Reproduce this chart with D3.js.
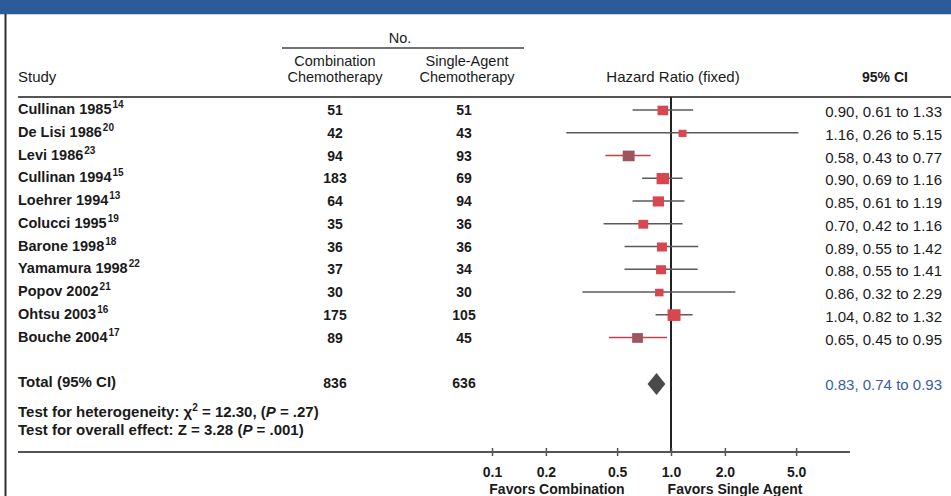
<!DOCTYPE html>
<html>
<head>
<meta charset="utf-8">
<script src="https://cdn.jsdelivr.net/npm/d3@7/dist/d3.min.js"></script>
<style>
  html, body { margin: 0; padding: 0; background: #fff; }
  svg { display: block; font-family: "Liberation Sans", Arial, Helvetica, sans-serif; }
</style>
</head>
<body>
<svg id="chart" width="951" height="496"></svg>
<script>
// Trials in the meta-analysis
const studies = ["Cullinan 1985", "De Lisi 1986", "Levi 1986", "Cullinan 1994", "Loehrer 1994",
  "Colucci 1995", "Barone 1998", "Yamamura 1998", "Popov 2002", "Ohtsu 2003", "Bouche 2004"];
const refs = ["14", "20", "23", "15", "13", "19", "18", "22", "21", "16", "17"];
const nCombination = [51, 42, 94, 183, 64, 35, 36, 37, 30, 175, 89];
const nSingle = [51, 43, 93, 69, 94, 36, 36, 34, 30, 105, 45];
const hazardRatio = [0.90, 1.16, 0.58, 0.90, 0.85, 0.70, 0.89, 0.88, 0.86, 1.04, 0.65];
const ciLower = [0.61, 0.26, 0.43, 0.69, 0.61, 0.42, 0.55, 0.55, 0.32, 0.82, 0.45];
const ciUpper = [1.33, 5.15, 0.77, 1.16, 1.19, 1.16, 1.42, 1.41, 2.29, 1.32, 0.95];
// Approximate percent weights (fixed effect), used for square size
const weights = [8.1, 0.6, 14.5, 18.3, 11.0, 4.8, 5.5, 5.5, 1.3, 21.7, 8.8];

// Pooled estimate
const totalLabel = "Total (95% CI)";
const totalCombination = 836;
const totalSingle = 636;
const totalHR = 0.83, totalLower = 0.74, totalUpper = 0.93;

// Axis ticks
const tickValues = [0.1, 0.2, 0.5, 1, 2, 5];
const tickLabels = ["0.1", "0.2", "0.5", "1.0", "2.0", "5.0"];

const fmt = d3.format(".2f");
const svg = d3.select("#chart");

// Layout
const rowTop = 111, rowStep = 22.75;
const axisY = 452;
const colComb = 335, colSingle = 464;
const ciRight = 942;

const x = d3.scaleLog().domain([0.1, 10]).range([492, 850]);
const y = i => rowTop + i * rowStep;
const size = d3.scaleSqrt().domain([0, 22]).range([7, 13]);

// Title band and frame
svg.append("rect").attr("x", 0).attr("y", 0).attr("width", 951).attr("height", 14).attr("fill", "#2c5b99");
svg.append("line").attr("x1", 0).attr("x2", 951).attr("y1", 14.5).attr("y2", 14.5)
  .attr("stroke", "#c9d3e3").attr("stroke-width", 1);
svg.append("line").attr("x1", 5.5).attr("x2", 5.5).attr("y1", 14).attr("y2", 496)
  .attr("stroke", "#2e2e2e").attr("stroke-width", 2);

// Header
const hdr = svg.append("g").attr("fill", "#1a1a1a").attr("font-size", 14.5);
hdr.append("text").attr("x", 400).attr("y", 43).attr("text-anchor", "middle").text("No.");
svg.append("line").attr("x1", 282).attr("x2", 524).attr("y1", 48).attr("y2", 48)
  .attr("stroke", "#444").attr("stroke-width", 1.6);
hdr.append("text").attr("x", colComb).attr("y", 66).attr("text-anchor", "middle").text("Combination");
hdr.append("text").attr("x", colComb).attr("y", 82).attr("text-anchor", "middle").text("Chemotherapy");
hdr.append("text").attr("x", colSingle + 3).attr("y", 66).attr("text-anchor", "middle").text("Single-Agent");
hdr.append("text").attr("x", colSingle + 3).attr("y", 82).attr("text-anchor", "middle").text("Chemotherapy");
hdr.append("text").attr("x", 18).attr("y", 82).attr("font-size", 15).text("Study");
hdr.append("text").attr("x", x(1) + 2).attr("y", 82).attr("text-anchor", "middle").attr("font-size", 15)
  .text("Hazard Ratio (fixed)");
hdr.append("text").attr("x", 885).attr("y", 82).attr("text-anchor", "middle")
  .attr("font-weight", "bold").attr("font-size", 14).text("95% CI");
svg.append("line").attr("x1", 18).attr("x2", 951).attr("y1", 97).attr("y2", 97)
  .attr("stroke", "#555").attr("stroke-width", 2);

// Line of no effect
svg.append("line").attr("x1", x(1)).attr("x2", x(1)).attr("y1", 97).attr("y2", axisY)
  .attr("stroke", "#222").attr("stroke-width", 2);

// Study rows
const rows = studies.map((s, i) => ({
  name: s, ref: refs[i], nc: nCombination[i], ns: nSingle[i],
  hr: hazardRatio[i], lo: ciLower[i], hi: ciUpper[i], w: weights[i], i
}));

const nameText = svg.append("g").attr("font-size", 14.5).attr("font-weight", "bold").attr("fill", "#1a1a1a")
  .selectAll("text").data(rows).join("text")
  .attr("x", 18).attr("y", d => y(d.i) + 3);
nameText.append("tspan").text(d => d.name);
nameText.append("tspan").attr("font-size", 10).attr("dy", -6).attr("dx", 1).text(d => d.ref);

svg.append("g").attr("font-size", 14).attr("font-weight", "bold").attr("fill", "#1a1a1a")
  .attr("text-anchor", "middle")
  .selectAll("text").data(rows).join("text")
  .attr("x", colComb).attr("y", d => y(d.i) + 4).text(d => d.nc);
svg.append("g").attr("font-size", 14).attr("font-weight", "bold").attr("fill", "#1a1a1a")
  .attr("text-anchor", "middle")
  .selectAll("text").data(rows).join("text")
  .attr("x", colSingle).attr("y", d => y(d.i) + 4).text(d => d.ns);

svg.append("g").attr("font-size", 15).attr("fill", "#1a1a1a").attr("text-anchor", "end")
  .selectAll("text").data(rows).join("text")
  .attr("x", ciRight).attr("y", d => y(d.i) + 6)
  .text(d => `${fmt(d.hr)}, ${fmt(d.lo)} to ${fmt(d.hi)}`);

// Confidence intervals and point estimates; trials whose interval excludes 1 are darker
const sig = d => d.hi < 1;
const marks = svg.append("g");
marks.selectAll("line").data(rows).join("line")
  .attr("x1", d => x(d.lo)).attr("x2", d => x(d.hi))
  .attr("y1", d => y(d.i) - 1).attr("y2", d => y(d.i) - 1)
  .attr("stroke", d => sig(d) ? "#b5464c" : "#5a5a5a").attr("stroke-width", 1.6);
marks.selectAll("rect").data(rows).join("rect")
  .attr("x", d => x(d.hr) - size(d.w) / 2)
  .attr("y", d => y(d.i) - size(d.w) / 2)
  .attr("width", d => size(d.w)).attr("height", d => size(d.w) * 0.9)
  .attr("fill", d => sig(d) ? "#9e565c" : "#d6474f");

// Pooled row
const ty = y(12);
svg.append("text").attr("x", 18).attr("y", ty + 3).attr("font-size", 15).attr("font-weight", "bold")
  .attr("fill", "#1a1a1a").text(totalLabel);
svg.append("text").attr("x", colComb).attr("y", ty + 4).attr("font-size", 14).attr("font-weight", "bold")
  .attr("text-anchor", "middle").attr("fill", "#1a1a1a").text(totalCombination);
svg.append("text").attr("x", colSingle).attr("y", ty + 4).attr("font-size", 14).attr("font-weight", "bold")
  .attr("text-anchor", "middle").attr("fill", "#1a1a1a").text(totalSingle);
svg.append("text").attr("x", ciRight).attr("y", ty + 6).attr("font-size", 15).attr("text-anchor", "end")
  .attr("fill", "#3b5ca8").text(`${fmt(totalHR)}, ${fmt(totalLower)} to ${fmt(totalUpper)}`);
svg.append("polygon")
  .attr("points", [[x(totalLower), ty], [x(totalHR), ty - 11], [x(totalUpper), ty], [x(totalHR), ty + 11]].join(" "))
  .attr("fill", "#4a4a4a");

// Test statistics
const t1 = svg.append("text").attr("x", 18).attr("y", 417).attr("font-size", 15).attr("font-weight", "bold").attr("fill", "#1a1a1a");
t1.append("tspan").text("Test for heterogeneity: χ");
t1.append("tspan").attr("font-size", 10).attr("dy", -6).text("2");
t1.append("tspan").attr("dy", 6).text(" = 12.30, (");
t1.append("tspan").attr("font-style", "italic").text("P");
t1.append("tspan").text(" = .27)");
const t2 = svg.append("text").attr("x", 18).attr("y", 435).attr("font-size", 15).attr("font-weight", "bold").attr("fill", "#1a1a1a");
t2.append("tspan").text("Test for overall effect: Z = 3.28 (");
t2.append("tspan").attr("font-style", "italic").text("P");
t2.append("tspan").text(" = .001)");

// Axis
svg.append("line").attr("x1", 18).attr("x2", 850).attr("y1", axisY).attr("y2", axisY)
  .attr("stroke", "#555").attr("stroke-width", 1.8);
const axis = d3.axisBottom(x).tickValues(tickValues)
  .tickFormat((d, i) => tickLabels[i]).tickSize(4).tickPadding(11);
const ax = svg.append("g").attr("transform", `translate(0,${axisY})`).call(axis);
ax.select(".domain").remove();
ax.selectAll(".tick line").attr("y1", -4).attr("y2", 4).attr("stroke", "#555").attr("stroke-width", 1.5);
ax.selectAll(".tick text").attr("font-size", 14).attr("font-weight", "bold")
  .attr("font-family", "Liberation Sans, Arial, sans-serif").attr("fill", "#1a1a1a");

svg.append("text").attr("x", 557).attr("y", 494).attr("text-anchor", "middle")
  .attr("font-size", 14).attr("font-weight", "bold").attr("fill", "#1a1a1a").text("Favors Combination");
svg.append("text").attr("x", 735).attr("y", 494).attr("text-anchor", "middle")
  .attr("font-size", 14).attr("font-weight", "bold").attr("fill", "#1a1a1a").text("Favors Single Agent");
</script>
</body>
</html>
